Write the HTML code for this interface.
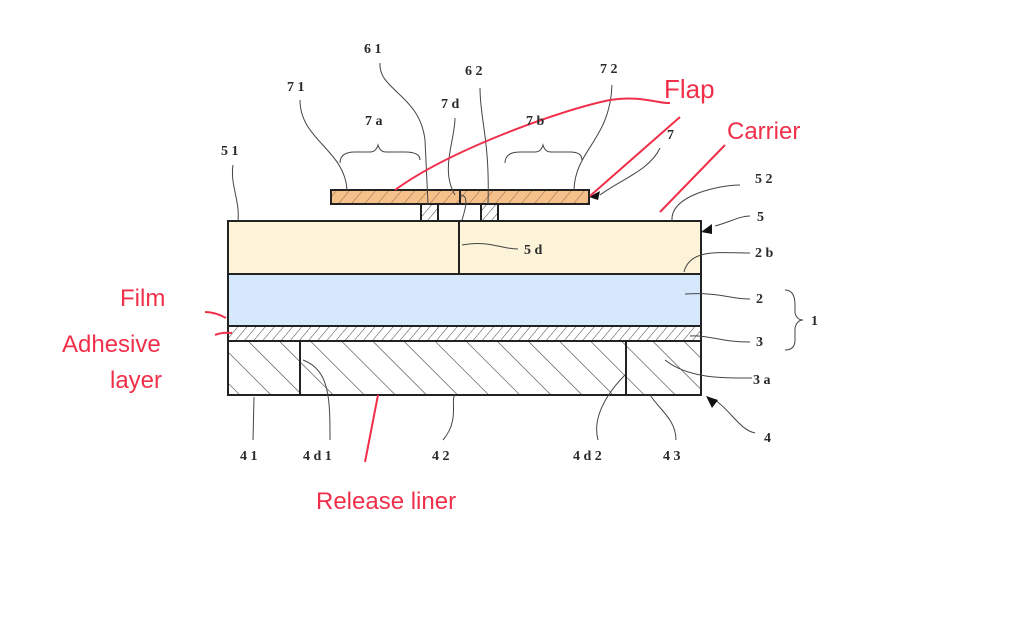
<!DOCTYPE html>
<html><head><meta charset="utf-8"><style>
html,body{margin:0;padding:0;background:#fff;width:1024px;height:622px;overflow:hidden}
svg{display:block}
.l{font-family:"Liberation Serif",serif;font-size:14px;fill:#2a2a2a;font-weight:bold}
.r{font-family:"Liberation Sans",sans-serif;font-size:24px;fill:#f0304a}
</style></head><body>
<svg width="1024" height="622" viewBox="0 0 1024 622">
<defs>
<pattern id="hf" width="10" height="10" patternUnits="userSpaceOnUse" patternTransform="rotate(40)"><line x1="0" y1="0" x2="0" y2="10" stroke="#8a6a4a" stroke-width="1"/></pattern>
<pattern id="ha" width="7" height="7" patternUnits="userSpaceOnUse" patternTransform="rotate(40)"><line x1="0" y1="0" x2="0" y2="7" stroke="#444" stroke-width="1"/></pattern>
<pattern id="hl" width="22" height="22" patternUnits="userSpaceOnUse" patternTransform="rotate(-45)"><line x1="0" y1="0" x2="0" y2="22" stroke="#444" stroke-width="1.2"/></pattern>
</defs>
<g stroke="#222" stroke-width="2">
<rect x="331" y="190" width="258" height="14" fill="#f5c08a"/>
<rect x="331" y="190" width="258" height="14" fill="url(#hf)"/>
<line x1="460" y1="190" x2="460" y2="204"/>
<rect x="421" y="204" width="17" height="17" fill="url(#ha)"/>
<rect x="481" y="204" width="17" height="17" fill="url(#ha)"/>
<rect x="228" y="221" width="473" height="53" fill="#fcf3d8"/>
<line x1="459" y1="221" x2="459" y2="274"/>
<rect x="228" y="274" width="473" height="52" fill="#d6e8fb"/>
<rect x="228" y="326" width="473" height="15" fill="#fff"/>
<rect x="228" y="326" width="473" height="15" fill="url(#ha)"/>
<rect x="228" y="341" width="473" height="54" fill="url(#hl)"/>
<line x1="300" y1="341" x2="300" y2="395"/>
<line x1="626" y1="341" x2="626" y2="395"/>
</g>
<g fill="none" stroke="#444" stroke-width="1">
<path d="M380 63 C378 90,420 95,425 140 L428 204"/>
<path d="M300 100 C300 140,345 150,347 190"/>
<path d="M480 88 C480 120,490 140,488 204"/>
<path d="M612 85 C610 140,575 150,574 190"/>
<path d="M455 118 C455 140,440 170,455 195"/>
<path d="M233 165 C230 185,240 200,238 221"/>
<path d="M740 185 C720 185,670 195,672 221"/>
<path d="M750 216 C740 216,730 222,715 226"/>
<path d="M750 253 C720 253,690 248,684 272"/>
<path d="M750 299 C730 299,720 292,685 294"/>
<path d="M750 342 C720 342,710 335,690 336"/>
<path d="M752 378 C730 378,690 380,665 360"/>
<path d="M755 433 C740 430,730 410,715 400"/>
<path d="M518 249 C500 249,490 240,462 245"/>
<path d="M462 220 C465 210,470 195,460 195"/>
<path d="M660 148 C650 170,620 180,600 195"/>
<path d="M254 397 L253 440 M330 440 C330 400,330 370,303 360 M443 440 C460 420,450 400,455 395 M598 440 C590 410,620 380,625 375 M676 440 C676 420,660 410,650 395"/>
<path d="M340 163 Q340 152,355 152 L370 152 Q376 152,378 145 Q380 152,386 152 L405 152 Q420 152,420 160"/>
<path d="M505 163 Q505 152,520 152 L535 152 Q541 152,543 145 Q545 152,551 152 L570 152 Q582 152,582 160"/>
<path d="M785 290 Q795 290,795 305 L795 313 Q797 320,803 320 Q797 320,795 328 L795 340 Q795 350,785 350"/>
</g>
<path d="M589 197 L600 191 L598 200 Z M701 232 L712 224 L712 234 Z M706 396 L718 400 L712 408 Z" fill="#111"/>
<g fill="none" stroke="#f0304a" stroke-width="2">
<path d="M395 190 C450 150,560 110,610 100 C640 95,660 104,670 103"/>
<path d="M590 196 L680 117"/>
<path d="M660 212 L725 145"/>
<path d="M205 312 Q215 312,226 318"/>
<path d="M215 335 Q222 332,232 333"/>
<path d="M378 395 L365 462"/>
</g>
<g class="l">
<text x="364" y="53">6 1</text><text x="287" y="91">7 1</text><text x="465" y="75">6 2</text><text x="600" y="73">7 2</text>
<text x="365" y="125">7 a</text><text x="441" y="108">7 d</text><text x="526" y="125">7 b</text><text x="667" y="139">7</text>
<text x="221" y="155">5 1</text><text x="755" y="183">5 2</text><text x="757" y="221">5</text><text x="755" y="257">2 b</text>
<text x="524" y="254">5 d</text><text x="756" y="303">2</text><text x="811" y="325">1</text><text x="756" y="346">3</text>
<text x="753" y="384">3 a</text><text x="764" y="442">4</text>
<text x="240" y="460">4 1</text><text x="303" y="460">4 d 1</text><text x="432" y="460">4 2</text><text x="573" y="460">4 d 2</text><text x="663" y="460">4 3</text>
</g>
<g class="r">
<text x="664" y="98" style="font-size:26px">Flap</text>
<text x="727" y="139">Carrier</text>
<text x="120" y="306">Film</text>
<text x="62" y="352">Adhesive</text>
<text x="110" y="388">layer</text>
<text x="316" y="509">Release liner</text>
</g>
</svg>
</body></html>
